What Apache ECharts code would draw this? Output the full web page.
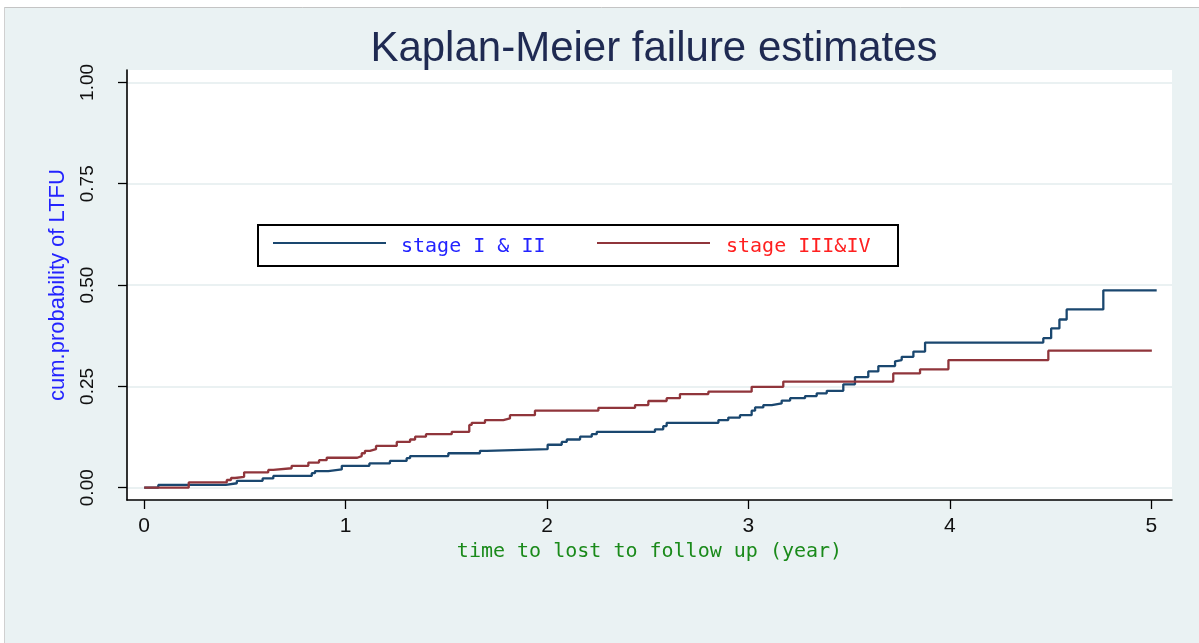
<!DOCTYPE html>
<html><head><meta charset="utf-8">
<script src="https://cdn.jsdelivr.net/npm/echarts@6/dist/echarts.min.js"></script>
<style>html,body{margin:0;padding:0;background:#fff}#c{width:1199px;height:643px}</style>
</head><body><div id="c"></div>
<script>
const titleText = 'Kaplan-Meier failure estimates';
const xTitle = 'time to lost to follow up (year)';
const yTitle = 'cum.probability of LTFU';
const seriesNames = ['stage I & II', 'stage III&IV'];
const xTicks = [0, 1, 2, 3, 4, 5];
const yTicks = [0, 0.25, 0.5, 0.75, 1];

// stage I & II : step times (years) and cumulative failure probability
const blueT = [0, 0.07, 0.405, 0.46, 0.588, 0.641, 0.832, 0.848, 0.914, 0.981, 1.118, 1.220, 1.303, 1.320, 1.510, 1.667, 1.701, 2.003, 2.073, 2.098, 2.164, 2.222, 2.247, 2.536, 2.577, 2.594, 2.851, 2.900, 2.958, 3.016, 3.033, 3.074, 3.116, 3.165, 3.207, 3.281, 3.339, 3.389, 3.471, 3.529, 3.595, 3.645, 3.728, 3.736, 3.761, 3.819, 3.877, 4.464, 4.503, 4.544, 4.580, 4.762, 5.027];
const blueV = [0, 0.007, 0.011, 0.017, 0.023, 0.029, 0.036, 0.041, 0.045, 0.054, 0.060, 0.066, 0.073, 0.078, 0.085, 0.091, 0.095, 0.106, 0.113, 0.119, 0.126, 0.132, 0.138, 0.144, 0.152, 0.160, 0.167, 0.173, 0.179, 0.190, 0.198, 0.204, 0.208, 0.215, 0.221, 0.226, 0.233, 0.239, 0.255, 0.273, 0.287, 0.300, 0.312, 0.315, 0.323, 0.336, 0.358, 0.369, 0.393, 0.415, 0.440, 0.487, 0.487];

// stage III&IV
const redT = [0, 0.221, 0.410, 0.431, 0.451, 0.496, 0.616, 0.641, 0.732, 0.815, 0.868, 0.906, 1.058, 1.080, 1.096, 1.121, 1.151, 1.254, 1.320, 1.345, 1.399, 1.527, 1.614, 1.626, 1.692, 1.783, 1.816, 1.940, 2.255, 2.437, 2.503, 2.594, 2.660, 2.801, 3.016, 3.173, 3.719, 3.852, 3.993, 4.489, 5.003];
const redV = [0, 0.013, 0.019, 0.024, 0.027, 0.038, 0.044, 0.048, 0.054, 0.062, 0.068, 0.074, 0.078, 0.085, 0.091, 0.095, 0.103, 0.113, 0.119, 0.126, 0.132, 0.138, 0.155, 0.160, 0.167, 0.171, 0.179, 0.190, 0.197, 0.204, 0.214, 0.221, 0.231, 0.237, 0.249, 0.262, 0.282, 0.292, 0.315, 0.338, 0.338];

const pairs = (t, v) => t.map((x, i) => [x, v[i]]);
const blueColor = '#1a476f', redColor = '#90353b';

const chart = echarts.init(document.getElementById('c'), null, {renderer: 'canvas'});
const legendCommon = {
  orient: 'horizontal', top: 232, icon: 'rect', itemWidth: 113, itemHeight: 2,
  selectedMode: false, formatter: '{a|{name}}'
};
const legendText = (color, padLeft) => ({
  rich: {a: {color: color, fontSize: 20, fontFamily: 'DejaVu Sans Mono', padding: [8, 0, 0, padLeft]}}
});
chart.setOption({
  animation: false,
  backgroundColor: '#eaf2f3',
  title: {
    text: titleText, left: 649, top: 23, textAlign: 'center',
    textStyle: {fontFamily: 'Liberation Sans', fontSize: 42, fontWeight: 'normal', color: '#1f2a52'}
  },
  graphic: [
    {type: 'rect', z: 0, shape: {x: 0, y: 0, width: 1199, height: 7}, style: {fill: '#ffffff'}},
    {type: 'rect', z: 0, shape: {x: 0, y: 0, width: 4, height: 643}, style: {fill: '#ffffff'}},
    {type: 'line', z: 0, shape: {x1: 4, y1: 7.5, x2: 1199, y2: 7.5}, style: {stroke: '#c4c4c4', lineWidth: 1}},
    {type: 'line', z: 0, shape: {x1: 4.5, y1: 7, x2: 4.5, y2: 643}, style: {stroke: '#d0d0d0', lineWidth: 1}},
    {type: 'rect', z: 1, shape: {x: 258, y: 225, width: 640, height: 41}, style: {fill: '#ffffff', stroke: '#000000', lineWidth: 2}}
  ],
  legend: [
    Object.assign({}, legendCommon, {data: [seriesNames[0]], left: 268, textStyle: legendText('#2323ff', 10)}),
    Object.assign({}, legendCommon, {data: [seriesNames[1]], left: 592, textStyle: legendText('#ff2020', 11)})
  ],
  grid: {left: 127, right: 27, top: 70, bottom: 143, show: true, backgroundColor: '#ffffff', borderWidth: 0, containLabel: false},
  xAxis: {
    type: 'value', min: -0.0854, max: 5.103,
    axisLine: {show: true, onZero: false, lineStyle: {color: '#000', width: 1.6}},
    axisTick: {show: true, customValues: xTicks, length: 9, lineStyle: {color: '#000', width: 1.3}},
    axisLabel: {customValues: xTicks, fontSize: 21, fontFamily: 'Liberation Sans', color: '#111', margin: 16},
    splitLine: {show: false},
    name: xTitle, nameLocation: 'middle', nameGap: 41,
    nameTextStyle: {color: '#1a8a1a', fontSize: 20, fontFamily: 'DejaVu Sans Mono'}
  },
  yAxis: {
    type: 'value', min: -0.0303, max: 1.0306,
    axisLine: {show: true, onZero: false, lineStyle: {color: '#000', width: 1.6}},
    axisTick: {show: true, customValues: yTicks, length: 9, lineStyle: {color: '#000', width: 1.3}},
    axisLabel: {customValues: yTicks, rotate: 90, fontSize: 19, fontFamily: 'Liberation Sans', color: '#111', margin: 30,
      formatter: v => v.toFixed(2)},
    splitLine: {show: true, lineStyle: {color: '#e3ecee', width: 1.5}},
    name: yTitle, nameLocation: 'middle', nameGap: 58,
    nameTextStyle: {color: '#2323ff', fontSize: 22, fontFamily: 'Liberation Sans'}
  },
  series: [
    {name: seriesNames[0], type: 'line', step: 'end', showSymbol: false, data: pairs(blueT, blueV),
      lineStyle: {color: blueColor, width: 2.3}, itemStyle: {color: blueColor}},
    {name: seriesNames[1], type: 'line', step: 'end', showSymbol: false, data: pairs(redT, redV),
      lineStyle: {color: redColor, width: 2.3}, itemStyle: {color: redColor}}
  ]
});
</script></body></html>
